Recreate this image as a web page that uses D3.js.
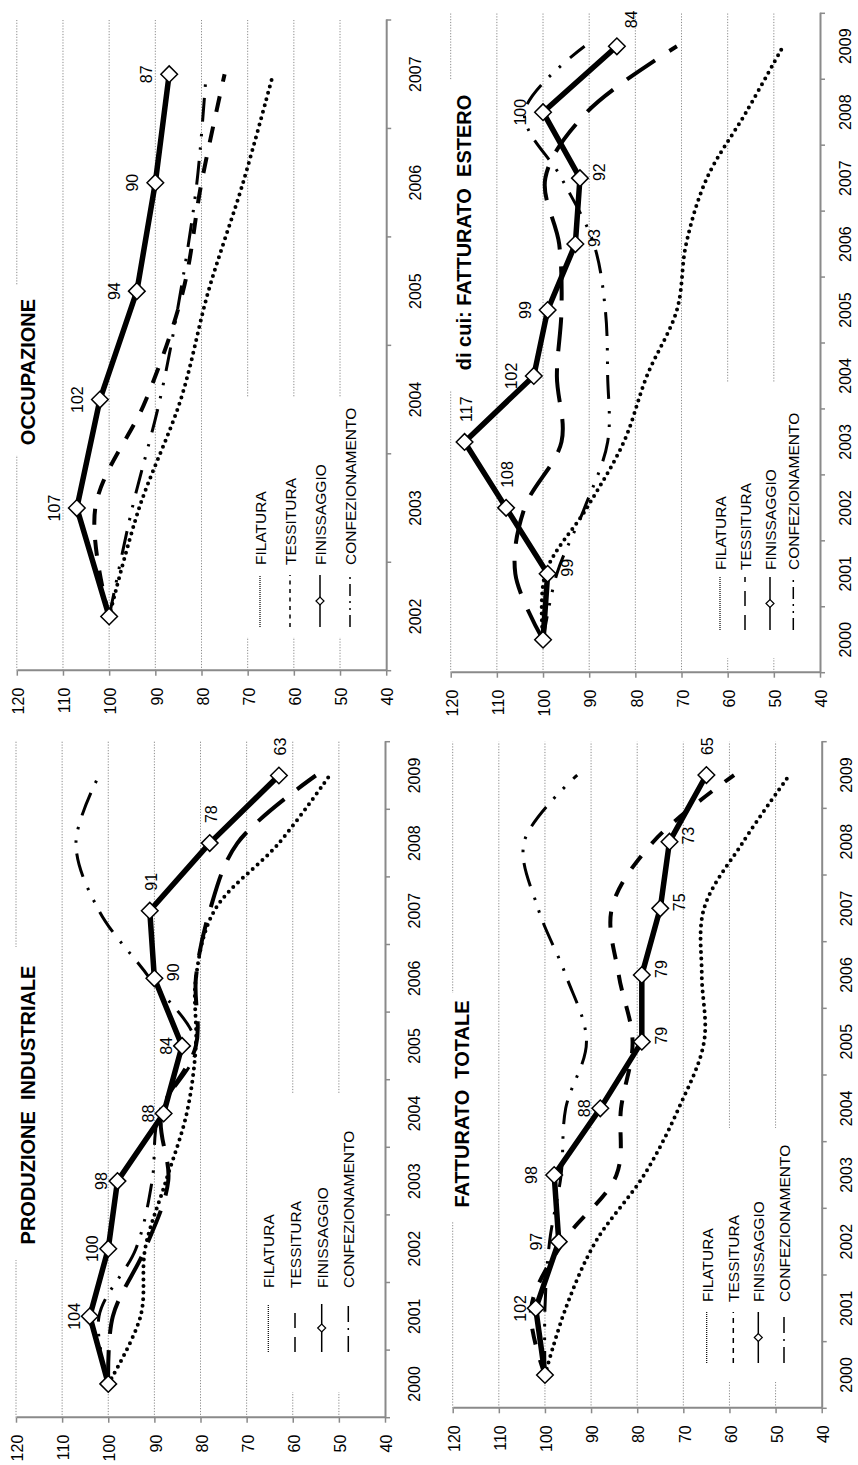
<!DOCTYPE html>
<html><head><meta charset="utf-8">
<script src="https://cdn.jsdelivr.net/npm/d3@7"></script>
<style>
html,body{margin:0;padding:0;background:#fff;}
svg{display:block;}
text{font-family:"Liberation Sans", Arial, sans-serif;fill:#000;}
</style></head><body>
<svg id="chart" width="858" height="1465"></svg>
<script>
// ---------- DATA ----------
const yearsFull = ["2000","2001","2002","2003","2004","2005","2006","2007","2008","2009"];
const yearsOcc = ["2002","2003","2004","2005","2006","2007"];
const seriesNames = ["FILATURA","TESSITURA","FINISSAGGIO","CONFEZIONAMENTO"];
const valueTicks = [40,50,60,70,80,90,100,110,120];
const titles = ["PRODUZIONE\u00A0 INDUSTRIALE","OCCUPAZIONE","FATTURATO\u00A0 TOTALE","di cui: FATTURATO\u00A0 ESTERO"];

const prodFilatura        = [100, 93, 92, 87.5, 83, 81, 81, 77, 63, 52];
const prodTessitura       = [100, 99, 92, 87, 88.5, 81, 81, 78, 72, 55];
const prodFinissaggio     = [100, 104, 100, 98, 88, 84, 90, 91, 78, 63];
const prodConfezionamento = [100, 102, 94, 90.5, 89, 81, 91, 102, 107, 102];

const occFilatura        = [100, 93.5, 84.5, 78.5, 71, 64.5];
const occTessitura       = [100, 103, 92, 84, 80, 75];
const occFinissaggio     = [100, 107, 102, 94, 90, 87];
const occConfezionamento = [100, 95, 89, 84.5, 81, 79];

const fattFilatura        = [100, 95.5, 89, 78.5, 71, 65.5, 66, 65.5, 57, 47];
const fattTessitura       = [100, 103, 96, 84.5, 83.5, 81, 84, 85.5, 76.5, 59];
const fattFinissaggio     = [100, 102, 97, 98, 88, 79, 79, 75, 73, 65];
const fattConfezionamento = [100, 100, 99, 96.5, 95.5, 91, 95.5, 101.5, 104.5, 93];

const estFilatura        = [100, 99.5, 90.5, 82.5, 77.5, 71, 69, 64.5, 56, 48];
const estTessitura       = [100, 106, 104, 96, 97, 96, 96.5, 99.5, 90.5, 71];
const estFinissaggio     = [100, 99, 108, 117, 102, 99, 93, 92, 100, 84];
const estConfezionamento = [100, 97, 91, 86, 86, 86.5, 89, 96, 104, 91];

// label placement codes for FINISSAGGIO values (empty = no label)
const prodLabelPos = ["", "a","a","a","a","a","b","r","r","r"];
const occLabelPos  = ["", "A","A","A","A","A"];
const fattLabelPos = ["", "a","A","A","a","b","b","b","b","r"];
const estLabelPos  = ["", "b","r","r","A","A","b","b","A","br"];

// ---------- LAYOUT (original landscape coords, rotated afterwards) ----------
const W = 1465;
const svg = d3.select("#chart");
const root = svg.append("g").attr("transform", `translate(0,${W}) rotate(-90)`);

const confDash = "24,11,2.5,11,2.5,12";
const panels = [
  {title: titles[0], cats: yearsFull, data:[prodFilatura,prodTessitura,prodFinissaggio,prodConfezionamento], labels: prodLabelPos,
   x0:47.3, x1:723.3, yTop:16, yBot:385, yearPad:24, titleX:360, titleY:35, titleBox:[205,518,0,46],
   legBox:[73,372,252,383], rows:[268.3,295,321.7,348.3], legLine:[113,161], legText:177,
   tessDash:"34,16", tessLeg:"15,9", confLeg:"16,6,2,6"},
  {title: titles[1], cats: yearsOcc, data:[occFilatura,occTessitura,occFinissaggio,occConfezionamento], labels: occLabelPos,
   x0:794.3, x1:1445, yTop:16.8, yBot:386.2, yearPad:23, titleX:1093, titleY:35, titleBox:[1010,1180,0,46],
   legBox:[828,1068,240,384], rows:[260,290,320,350], legLine:[838,890], legText:900,
   tessDash:"16,15", tessLeg:"4,4.5", confLeg:"12,5,2,5,2,5"},
  {title: titles[2], cats: yearsFull, data:[fattFilatura,fattTessitura,fattFinissaggio,fattConfezionamento], labels: fattLabelPos,
   x0:56.7, x1:723.3, yTop:452.7, yBot:821.7, yearPad:19, titleX:361, titleY:469, titleBox:[243,472,438,480],
   legBox:[83,337,690,820], rows:[706.7,733.3,758.3,784], legLine:[102,153], legText:163,
   tessDash:"16,16", tessLeg:"5,5", confLeg:"16,6,2,6"},
  {title: titles[3], cats: yearsFull, data:[estFilatura,estTessitura,estFinissaggio,estConfezionamento], labels: estLabelPos,
   x0:792.3, x1:1451.7, yTop:450.7, yBot:820, yearPad:20, titleX:1232.5, titleY:471, titleBox:[1075,1385,438,480],
   legBox:[807,1082,705,819], rows:[720,745,770,793.3], legLine:[835,888], legText:895,
   tessDash:"34,17", tessLeg:"15,9", confLeg:"12,5,2,5,2,5"}
];

const gray = "#8a8a8a";
const diamond = r => `M0,${-r}L${r},0L0,${r}L${-r},0Z`;
const labelOff = {
  a:{dx:0,dy:-10,anchor:"middle"}, A:{dx:0,dy:-17,anchor:"middle"},
  b:{dx:6,dy:25,anchor:"middle"}, r:{dx:20,dy:7,anchor:"start"}, br:{dx:18,dy:20,anchor:"start"}
};

panels.forEach(p => {
  const g = root.append("g");
  const x = d3.scaleBand().domain(p.cats).range([p.x0, p.x1]).paddingInner(0).paddingOuter(0);
  const xc = c => x(c) + x.bandwidth()/2;
  const y = d3.scaleLinear().domain([40,120]).range([p.yBot, p.yTop]);

  // gridlines
  g.append("g").selectAll("line").data(valueTicks.filter(v => v > 40)).join("line")
    .attr("x1", p.x0).attr("x2", p.x1).attr("y1", d => y(d)).attr("y2", d => y(d))
    .attr("stroke", gray).attr("stroke-width", 1).attr("stroke-dasharray", "1.2,1.6");

  // title & legend backgrounds
  g.append("rect").attr("x", p.titleBox[0]).attr("y", p.titleBox[2])
    .attr("width", p.titleBox[1]-p.titleBox[0]).attr("height", p.titleBox[3]-p.titleBox[2]).attr("fill", "#fff");
  g.append("rect").attr("x", p.legBox[0]).attr("y", p.legBox[2])
    .attr("width", p.legBox[1]-p.legBox[0]).attr("height", p.legBox[3]-p.legBox[2]).attr("fill", "#fff");

  // value axis
  const ya = g.append("g").attr("transform", `translate(${p.x0},0)`)
    .call(d3.axisLeft(y).tickValues(valueTicks).tickSize(5).tickSizeOuter(0).tickPadding(12));
  ya.select(".domain").attr("stroke", gray).attr("stroke-width", 2);
  ya.selectAll(".tick line").attr("stroke", gray).attr("stroke-width", 1.5);
  ya.selectAll(".tick text").attr("font-size", 16).attr("font-family", "Liberation Sans, Arial, sans-serif").attr("dy", "0.42em");

  // category axis
  const xa = g.append("g").attr("transform", `translate(0,${p.yBot})`)
    .call(d3.axisBottom(x).tickSize(0).tickSizeOuter(0).tickPadding(p.yearPad));
  xa.select(".domain").attr("stroke", gray).attr("stroke-width", 2);
  xa.selectAll(".tick text").attr("font-size", 16).attr("font-family", "Liberation Sans, Arial, sans-serif");
  const bounds = p.cats.map(c => x(c)).concat([p.x1]);
  g.append("g").selectAll("line").data(bounds).join("line")
    .attr("x1", d => d).attr("x2", d => d).attr("y1", p.yBot).attr("y2", p.yBot + 5)
    .attr("stroke", gray).attr("stroke-width", 1.5);

  // title
  g.append("text").attr("x", p.titleX).attr("y", p.titleY).attr("text-anchor", "middle")
    .attr("font-size", 20).attr("font-weight", "bold").text(p.title);

  // series lines
  const smooth = d3.line().x((d,i) => xc(p.cats[i])).y(d => y(d)).curve(d3.curveCatmullRom.alpha(0.5));
  const straight = d3.line().x((d,i) => xc(p.cats[i])).y(d => y(d));
  g.append("path").attr("d", smooth(p.data[0])).attr("fill","none").attr("stroke","#000")
    .attr("stroke-width", 4).attr("stroke-linecap","round").attr("stroke-dasharray","0,6.6");
  g.append("path").attr("d", smooth(p.data[1])).attr("fill","none").attr("stroke","#000")
    .attr("stroke-width", 4).attr("stroke-dasharray", p.tessDash);
  g.append("path").attr("d", smooth(p.data[3])).attr("fill","none").attr("stroke","#000")
    .attr("stroke-width", 3).attr("stroke-dasharray", confDash);
  g.append("path").attr("d", straight(p.data[2])).attr("fill","none").attr("stroke","#000")
    .attr("stroke-width", 5.5).attr("stroke-linejoin","round");
  g.append("g").selectAll("path").data(p.data[2]).join("path")
    .attr("d", diamond(8.3))
    .attr("transform", (d,i) => `translate(${xc(p.cats[i])},${y(d)})`)
    .attr("fill","#fff").attr("stroke","#000").attr("stroke-width",1.5);

  // data labels
  g.append("g").selectAll("text").data(p.data[2].map((v,i) => ({v, i, pos: p.labels[i]})).filter(d => d.pos))
    .join("text")
    .attr("x", d => xc(p.cats[d.i]) + labelOff[d.pos].dx)
    .attr("y", d => y(d.v) + labelOff[d.pos].dy)
    .attr("text-anchor", d => labelOff[d.pos].anchor)
    .attr("font-size", 16).text(d => d3.format("d")(d.v));

  // legend
  const leg = g.append("g");
  const [lx0, lx1] = p.legLine;
  const legStyles = [
    {w:1.2, dash:"1,1"}, {w:1.5, dash:p.tessLeg}, {w:1.5, dash:null}, {w:1.5, dash:p.confLeg}
  ];
  seriesNames.forEach((name, k) => {
    const ry = p.rows[k];
    const ln = leg.append("line").attr("x1", lx0).attr("x2", lx1).attr("y1", ry).attr("y2", ry)
      .attr("stroke", "#000").attr("stroke-width", legStyles[k].w);
    if (legStyles[k].dash) ln.attr("stroke-dasharray", legStyles[k].dash);
    if (k === 2) leg.append("path").attr("d", diamond(4)).attr("transform", `translate(${(lx0+lx1)/2},${ry})`)
      .attr("fill","#fff").attr("stroke","#000").attr("stroke-width",1.2);
    leg.append("text").attr("x", p.legText).attr("y", ry + 6).attr("font-size", 15.5).text(name);
  });
});
</script>
</body></html>
